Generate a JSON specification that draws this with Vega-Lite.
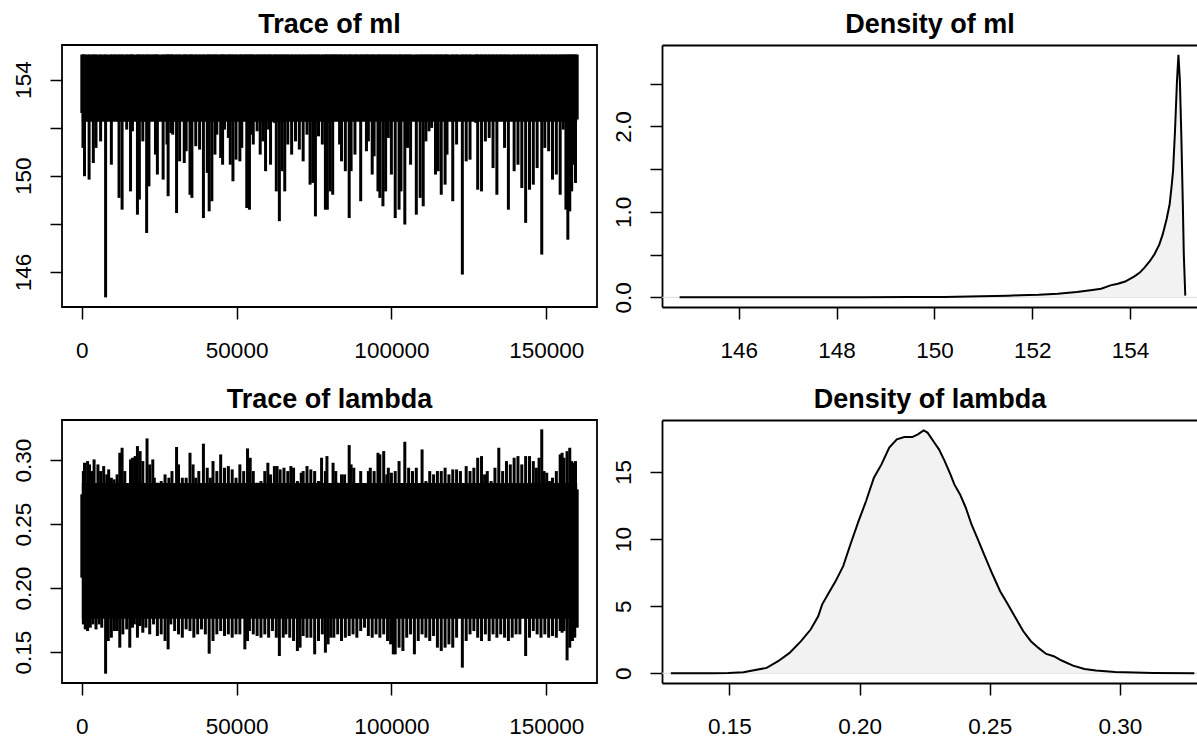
{
  "$schema": "https://vega.github.io/schema/vega-lite/v6.json",
  "padding": {"left": 0, "top": 10, "right": 0, "bottom": 0},
  "background": "white",
  "config": {
    "font": "Liberation Sans",
    "view": {"stroke": "#000000", "strokeWidth": 1.8},
    "axis": {"grid": false, "labelFont": "Liberation Sans", "labelFontSize": 22.5, "labelColor": "#000000", "tickColor": "#000000", "tickWidth": 1.5, "tickSize": 12, "domain": false, "labelOverlap": false, "labelFlush": false, "labelBound": false},
    "axisX": {"labelPadding": 38, "labelBaseline": "alphabetic", "labelAngle": 0, "minExtent": 56, "maxExtent": 56},
    "axisY": {"labelPadding": 20, "labelAngle": -90, "labelAlign": "center", "labelBaseline": "alphabetic", "minExtent": 61, "maxExtent": 61},
    "title": {"font": "Liberation Sans", "fontSize": 27, "fontWeight": "bold", "color": "#000000", "offset": 6, "baseline": "alphabetic", "anchor": "middle"}
  },
  "datasets": {
    "ml_core": [{"iteration": 0, "iteration_end": 160000, "value": 152.25, "value_high": 155.04}],
    "lambda_core": [{"iteration": 0, "iteration_end": 160000, "value": 0.176, "value_high": 0.282}],
    "baseline": [{"density": 0}],
    "ml_trace": [
      {"iteration":0,"value":152.61},{"iteration":372,"value":151.16},{"iteration":867,"value":149.98},{"iteration":2354,"value":149.84},{"iteration":3717,"value":150.53},{"iteration":4584,"value":151.16},{"iteration":6071,"value":151.43},{"iteration":7682,"value":144.94},{"iteration":9540,"value":150.46},{"iteration":10779,"value":152.34},{"iteration":12018,"value":149.08},{"iteration":13010,"value":148.59},{"iteration":14496,"value":151.92},{"iteration":15735,"value":149.35},{"iteration":16355,"value":151.85},{"iteration":17966,"value":148.38},{"iteration":18585,"value":149.01},{"iteration":19700,"value":151.43},{"iteration":20939,"value":147.62},{"iteration":21683,"value":149.56},{"iteration":22922,"value":152.47},{"iteration":23789,"value":150.88},{"iteration":24408,"value":150.05},{"iteration":26267,"value":149.84},{"iteration":27506,"value":151.30},{"iteration":27878,"value":149.15},{"iteration":28745,"value":151.78},{"iteration":29364,"value":151.71},{"iteration":30603,"value":148.45},{"iteration":31595,"value":150.60},{"iteration":33081,"value":150.53},{"iteration":33701,"value":151.02},{"iteration":34940,"value":149.21},{"iteration":35559,"value":149.08},{"iteration":36798,"value":151.23},{"iteration":38037,"value":151.09},{"iteration":39276,"value":148.24},{"iteration":40515,"value":150.12},{"iteration":41135,"value":148.52},{"iteration":42002,"value":148.94},{"iteration":42993,"value":150.88},{"iteration":43613,"value":151.71},{"iteration":44852,"value":150.74},{"iteration":45471,"value":150.46},{"iteration":46091,"value":151.92},{"iteration":47330,"value":151.57},{"iteration":47949,"value":150.46},{"iteration":48817,"value":149.77},{"iteration":49808,"value":150.67},{"iteration":51047,"value":150.60},{"iteration":51666,"value":151.16},{"iteration":52658,"value":152.61},{"iteration":53277,"value":148.66},{"iteration":54144,"value":148.59},{"iteration":54764,"value":151.71},{"iteration":55383,"value":151.30},{"iteration":56622,"value":151.85},{"iteration":57614,"value":150.88},{"iteration":58481,"value":151.43},{"iteration":59348,"value":150.19},{"iteration":60339,"value":151.92},{"iteration":60959,"value":150.46},{"iteration":62198,"value":152.20},{"iteration":62817,"value":149.35},{"iteration":63809,"value":148.11},{"iteration":64676,"value":150.19},{"iteration":65543,"value":149.35},{"iteration":66534,"value":151.30},{"iteration":67773,"value":150.88},{"iteration":69012,"value":151.43},{"iteration":70251,"value":151.09},{"iteration":71491,"value":150.60},{"iteration":72730,"value":151.71},{"iteration":73721,"value":149.63},{"iteration":74588,"value":149.70},{"iteration":75455,"value":148.31},{"iteration":76447,"value":151.64},{"iteration":77686,"value":151.30},{"iteration":78677,"value":148.59},{"iteration":79296,"value":148.59},{"iteration":80163,"value":149.35},{"iteration":81031,"value":149.21},{"iteration":81650,"value":152.40},{"iteration":82394,"value":152.40},{"iteration":83261,"value":151.30},{"iteration":83880,"value":150.60},{"iteration":85119,"value":150.19},{"iteration":86358,"value":148.24},{"iteration":86978,"value":150.19},{"iteration":88217,"value":150.88},{"iteration":88836,"value":152.54},{"iteration":90075,"value":148.94},{"iteration":91067,"value":152.34},{"iteration":91934,"value":151.02},{"iteration":92553,"value":151.43},{"iteration":93792,"value":150.05},{"iteration":94412,"value":150.81},{"iteration":95651,"value":149.35},{"iteration":96270,"value":149.08},{"iteration":97262,"value":148.73},{"iteration":98129,"value":149.35},{"iteration":98996,"value":151.57},{"iteration":99988,"value":150.05},{"iteration":101227,"value":148.24},{"iteration":102466,"value":148.59},{"iteration":103085,"value":149.35},{"iteration":104324,"value":147.97},{"iteration":105191,"value":151.16},{"iteration":106183,"value":150.46},{"iteration":108041,"value":148.38},{"iteration":109280,"value":149.08},{"iteration":110271,"value":148.73},{"iteration":111138,"value":151.43},{"iteration":112130,"value":151.85},{"iteration":112997,"value":151.99},{"iteration":114236,"value":150.05},{"iteration":115103,"value":150.19},{"iteration":116094,"value":149.21},{"iteration":117333,"value":149.63},{"iteration":117953,"value":150.88},{"iteration":119811,"value":148.94},{"iteration":121050,"value":151.30},{"iteration":122909,"value":145.89},{"iteration":124148,"value":150.60},{"iteration":125387,"value":150.67},{"iteration":127245,"value":152.20},{"iteration":127865,"value":149.42},{"iteration":129104,"value":149.35},{"iteration":130343,"value":151.43},{"iteration":131582,"value":151.57},{"iteration":132821,"value":150.32},{"iteration":134060,"value":149.21},{"iteration":135299,"value":152.27},{"iteration":136538,"value":151.16},{"iteration":137777,"value":148.59},{"iteration":139635,"value":150.19},{"iteration":140874,"value":150.46},{"iteration":142113,"value":149.49},{"iteration":143352,"value":148.04},{"iteration":144591,"value":149.42},{"iteration":145830,"value":149.63},{"iteration":147069,"value":150.32},{"iteration":148556,"value":146.72},{"iteration":149547,"value":151.16},{"iteration":150786,"value":151.02},{"iteration":152025,"value":149.84},{"iteration":153264,"value":150.05},{"iteration":154503,"value":149.21},{"iteration":155494,"value":151.92},{"iteration":156362,"value":148.59},{"iteration":156981,"value":147.34},{"iteration":157601,"value":148.52},{"iteration":158220,"value":149.35},{"iteration":158840,"value":150.46},{"iteration":159459,"value":149.70},{"iteration":160000,"value":152.34}
    ],
    "lambda_upper": [
      {"iteration":0,"value":0.2732},{"iteration":496,"value":0.2914},{"iteration":867,"value":0.2979},{"iteration":1859,"value":0.2992},{"iteration":2478,"value":0.2966},{"iteration":3345,"value":0.2914},{"iteration":3965,"value":0.3005},{"iteration":5204,"value":0.2966},{"iteration":6071,"value":0.2914},{"iteration":7062,"value":0.2953},{"iteration":8054,"value":0.2888},{"iteration":8673,"value":0.2927},{"iteration":9540,"value":0.2862},{"iteration":10408,"value":0.2849},{"iteration":11399,"value":0.2888},{"iteration":12266,"value":0.3057},{"iteration":13010,"value":0.3096},{"iteration":13877,"value":0.2914},{"iteration":14868,"value":0.2797},{"iteration":15735,"value":0.3005},{"iteration":16355,"value":0.3018},{"iteration":17222,"value":0.3031},{"iteration":17966,"value":0.3109},{"iteration":18833,"value":0.3070},{"iteration":19700,"value":0.2992},{"iteration":21063,"value":0.3169},{"iteration":21930,"value":0.2966},{"iteration":22922,"value":0.3005},{"iteration":23417,"value":0.2862},{"iteration":24408,"value":0.2823},{"iteration":25647,"value":0.2836},{"iteration":26886,"value":0.2888},{"iteration":28125,"value":0.2862},{"iteration":29117,"value":0.2914},{"iteration":30603,"value":0.3102},{"iteration":31223,"value":0.2966},{"iteration":32462,"value":0.2862},{"iteration":33701,"value":0.2862},{"iteration":34940,"value":0.3057},{"iteration":35931,"value":0.2966},{"iteration":36798,"value":0.2862},{"iteration":37790,"value":0.2914},{"iteration":39276,"value":0.3128},{"iteration":40515,"value":0.2940},{"iteration":41507,"value":0.2862},{"iteration":42374,"value":0.2992},{"iteration":43613,"value":0.2914},{"iteration":44852,"value":0.3044},{"iteration":46091,"value":0.2940},{"iteration":47330,"value":0.2953},{"iteration":48569,"value":0.2927},{"iteration":49808,"value":0.2862},{"iteration":51047,"value":0.2966},{"iteration":52286,"value":0.2914},{"iteration":53525,"value":0.3091},{"iteration":54392,"value":0.3018},{"iteration":55383,"value":0.2914},{"iteration":56622,"value":0.2823},{"iteration":57861,"value":0.2836},{"iteration":59100,"value":0.2914},{"iteration":60092,"value":0.2979},{"iteration":60959,"value":0.2888},{"iteration":62198,"value":0.2953},{"iteration":63065,"value":0.2953},{"iteration":64056,"value":0.2927},{"iteration":65295,"value":0.2940},{"iteration":66534,"value":0.2914},{"iteration":67526,"value":0.2953},{"iteration":68393,"value":0.2940},{"iteration":69632,"value":0.2836},{"iteration":70871,"value":0.2901},{"iteration":71491,"value":0.2914},{"iteration":72730,"value":0.2953},{"iteration":73969,"value":0.2927},{"iteration":75208,"value":0.2914},{"iteration":76447,"value":0.2836},{"iteration":77438,"value":0.3018},{"iteration":78677,"value":0.2914},{"iteration":79172,"value":0.3031},{"iteration":80411,"value":0.2810},{"iteration":81155,"value":0.2979},{"iteration":82022,"value":0.2914},{"iteration":82641,"value":0.2823},{"iteration":83880,"value":0.2888},{"iteration":84872,"value":0.2888},{"iteration":86358,"value":0.3117},{"iteration":86978,"value":0.2966},{"iteration":87845,"value":0.2940},{"iteration":88836,"value":0.2810},{"iteration":90075,"value":0.2914},{"iteration":91314,"value":0.2745},{"iteration":92553,"value":0.2914},{"iteration":93173,"value":0.2940},{"iteration":94412,"value":0.2914},{"iteration":95651,"value":0.3057},{"iteration":96270,"value":0.3044},{"iteration":97509,"value":0.3070},{"iteration":98501,"value":0.2888},{"iteration":98996,"value":0.2940},{"iteration":99988,"value":0.2901},{"iteration":101227,"value":0.2914},{"iteration":102466,"value":0.2992},{"iteration":104324,"value":0.3143},{"iteration":105563,"value":0.2940},{"iteration":106802,"value":0.2914},{"iteration":108041,"value":0.2940},{"iteration":109899,"value":0.3083},{"iteration":111138,"value":0.2836},{"iteration":112377,"value":0.2914},{"iteration":113616,"value":0.2888},{"iteration":114855,"value":0.2914},{"iteration":116094,"value":0.2914},{"iteration":117333,"value":0.2940},{"iteration":118572,"value":0.2888},{"iteration":119811,"value":0.2927},{"iteration":121050,"value":0.2927},{"iteration":122289,"value":0.2914},{"iteration":124148,"value":0.2953},{"iteration":125387,"value":0.2914},{"iteration":126626,"value":0.2940},{"iteration":127865,"value":0.3018},{"iteration":129104,"value":0.3031},{"iteration":130095,"value":0.2888},{"iteration":130962,"value":0.2914},{"iteration":132201,"value":0.2836},{"iteration":133440,"value":0.2940},{"iteration":134679,"value":0.3096},{"iteration":135918,"value":0.2914},{"iteration":137157,"value":0.2992},{"iteration":138396,"value":0.2966},{"iteration":139635,"value":0.3018},{"iteration":140874,"value":0.3031},{"iteration":142113,"value":0.2966},{"iteration":143352,"value":0.3031},{"iteration":144591,"value":0.3031},{"iteration":145830,"value":0.2992},{"iteration":146822,"value":0.2940},{"iteration":147689,"value":0.3018},{"iteration":148556,"value":0.3240},{"iteration":149300,"value":0.2914},{"iteration":150167,"value":0.2901},{"iteration":151034,"value":0.2836},{"iteration":152025,"value":0.2862},{"iteration":153264,"value":0.2914},{"iteration":154503,"value":0.3044},{"iteration":155123,"value":0.3057},{"iteration":155742,"value":0.3018},{"iteration":156734,"value":0.3070},{"iteration":157601,"value":0.3096},{"iteration":158220,"value":0.2992},{"iteration":158840,"value":0.2979},{"iteration":159459,"value":0.2992},{"iteration":160000,"value":0.2771}
    ],
    "lambda_lower": [
      {"iteration":0,"value":0.2081},{"iteration":496,"value":0.1716},{"iteration":1115,"value":0.1677},{"iteration":1859,"value":0.1664},{"iteration":2726,"value":0.1690},{"iteration":3593,"value":0.1716},{"iteration":4584,"value":0.1677},{"iteration":5576,"value":0.1716},{"iteration":6443,"value":0.1690},{"iteration":7682,"value":0.1331},{"iteration":8549,"value":0.1586},{"iteration":9540,"value":0.1612},{"iteration":10532,"value":0.1664},{"iteration":11399,"value":0.1664},{"iteration":12266,"value":0.1534},{"iteration":13257,"value":0.1638},{"iteration":14496,"value":0.1677},{"iteration":15488,"value":0.1534},{"iteration":16355,"value":0.1690},{"iteration":16974,"value":0.1716},{"iteration":17966,"value":0.1612},{"iteration":18833,"value":0.1703},{"iteration":19700,"value":0.1651},{"iteration":20691,"value":0.1690},{"iteration":21930,"value":0.1638},{"iteration":23169,"value":0.1716},{"iteration":24408,"value":0.1625},{"iteration":25647,"value":0.1638},{"iteration":26886,"value":0.1586},{"iteration":27878,"value":0.1521},{"iteration":28745,"value":0.1716},{"iteration":29984,"value":0.1664},{"iteration":31223,"value":0.1638},{"iteration":32462,"value":0.1612},{"iteration":33701,"value":0.1677},{"iteration":34940,"value":0.1664},{"iteration":36179,"value":0.1612},{"iteration":37418,"value":0.1638},{"iteration":38657,"value":0.1677},{"iteration":39896,"value":0.1638},{"iteration":41135,"value":0.1487},{"iteration":42374,"value":0.1586},{"iteration":43613,"value":0.1638},{"iteration":44852,"value":0.1664},{"iteration":46091,"value":0.1625},{"iteration":47330,"value":0.1638},{"iteration":48569,"value":0.1612},{"iteration":49808,"value":0.1638},{"iteration":51047,"value":0.1638},{"iteration":52658,"value":0.1521},{"iteration":53525,"value":0.1586},{"iteration":54144,"value":0.1664},{"iteration":55383,"value":0.1638},{"iteration":56622,"value":0.1625},{"iteration":57861,"value":0.1612},{"iteration":59100,"value":0.1638},{"iteration":60339,"value":0.1612},{"iteration":61578,"value":0.1664},{"iteration":62817,"value":0.1612},{"iteration":63809,"value":0.1469},{"iteration":65048,"value":0.1612},{"iteration":65915,"value":0.1638},{"iteration":67154,"value":0.1612},{"iteration":68393,"value":0.1586},{"iteration":69632,"value":0.1508},{"iteration":70499,"value":0.1534},{"iteration":71491,"value":0.1625},{"iteration":72730,"value":0.1612},{"iteration":73969,"value":0.1612},{"iteration":75208,"value":0.1482},{"iteration":76447,"value":0.1586},{"iteration":77686,"value":0.1638},{"iteration":78677,"value":0.1495},{"iteration":79544,"value":0.1560},{"iteration":80411,"value":0.1612},{"iteration":81402,"value":0.1612},{"iteration":82641,"value":0.1638},{"iteration":83880,"value":0.1586},{"iteration":85119,"value":0.1612},{"iteration":86358,"value":0.1625},{"iteration":87597,"value":0.1638},{"iteration":88836,"value":0.1612},{"iteration":90075,"value":0.1664},{"iteration":91314,"value":0.1690},{"iteration":92553,"value":0.1625},{"iteration":93792,"value":0.1612},{"iteration":95031,"value":0.1638},{"iteration":96270,"value":0.1612},{"iteration":97509,"value":0.1638},{"iteration":98748,"value":0.1586},{"iteration":99740,"value":0.1560},{"iteration":100607,"value":0.1482},{"iteration":101227,"value":0.1482},{"iteration":102466,"value":0.1534},{"iteration":103705,"value":0.1508},{"iteration":104944,"value":0.1612},{"iteration":106183,"value":0.1638},{"iteration":107422,"value":0.1482},{"iteration":108661,"value":0.1586},{"iteration":109899,"value":0.1638},{"iteration":111138,"value":0.1612},{"iteration":112377,"value":0.1586},{"iteration":113616,"value":0.1625},{"iteration":114855,"value":0.1534},{"iteration":116094,"value":0.1508},{"iteration":117333,"value":0.1534},{"iteration":118572,"value":0.1560},{"iteration":119811,"value":0.1534},{"iteration":121050,"value":0.1612},{"iteration":122909,"value":0.1378},{"iteration":124148,"value":0.1586},{"iteration":125387,"value":0.1638},{"iteration":126626,"value":0.1664},{"iteration":127865,"value":0.1612},{"iteration":129104,"value":0.1586},{"iteration":130343,"value":0.1638},{"iteration":131582,"value":0.1586},{"iteration":132821,"value":0.1638},{"iteration":134060,"value":0.1612},{"iteration":135299,"value":0.1638},{"iteration":136538,"value":0.1612},{"iteration":137777,"value":0.1586},{"iteration":139016,"value":0.1612},{"iteration":140255,"value":0.1638},{"iteration":141494,"value":0.1638},{"iteration":143352,"value":0.1469},{"iteration":144591,"value":0.1612},{"iteration":145830,"value":0.1664},{"iteration":147069,"value":0.1638},{"iteration":148308,"value":0.1612},{"iteration":149547,"value":0.1638},{"iteration":150786,"value":0.1612},{"iteration":152025,"value":0.1625},{"iteration":153264,"value":0.1612},{"iteration":154503,"value":0.1664},{"iteration":155123,"value":0.1651},{"iteration":155742,"value":0.1664},{"iteration":156734,"value":0.1435},{"iteration":157601,"value":0.1534},{"iteration":158468,"value":0.1586},{"iteration":159211,"value":0.1612},{"iteration":160000,"value":0.1690}
    ],
    "ml_density": [
      {"value":144.79,"density":0.0},{"value":145.5,"density":0.0},{"value":146.5,"density":0.001},{"value":147.5,"density":0.001},{"value":148.5,"density":0.002},{"value":149.5,"density":0.003},{"value":150.2,"density":0.005},{"value":150.96,"density":0.012},{"value":151.5,"density":0.019},{"value":151.74,"density":0.024},{"value":152.13,"density":0.031},{"value":152.52,"density":0.043},{"value":152.91,"density":0.062},{"value":153.23,"density":0.086},{"value":153.41,"density":0.1},{"value":153.6,"density":0.14},{"value":153.75,"density":0.16},{"value":153.9,"density":0.185},{"value":154.09,"density":0.245},{"value":154.2,"density":0.29},{"value":154.3,"density":0.35},{"value":154.4,"density":0.42},{"value":154.5,"density":0.505},{"value":154.6,"density":0.62},{"value":154.67,"density":0.74},{"value":154.75,"density":0.92},{"value":154.81,"density":1.09},{"value":154.85,"density":1.3},{"value":154.88,"density":1.48},{"value":154.92,"density":1.95},{"value":154.96,"density":2.53},{"value":154.99,"density":2.84},{"value":155.02,"density":2.53},{"value":155.05,"density":1.87},{"value":155.08,"density":1.09},{"value":155.1,"density":0.5},{"value":155.13,"density":0.02}
    ],
    "lambda_density": [
      {"value":0.1275,"density":0.0},{"value":0.1437,"density":0.0},{"value":0.1496,"density":0.02},{"value":0.1554,"density":0.07},{"value":0.1599,"density":0.25},{"value":0.1643,"density":0.4},{"value":0.1687,"density":0.9},{"value":0.1731,"density":1.52},{"value":0.1775,"density":2.39},{"value":0.1812,"density":3.26},{"value":0.1841,"density":4.25},{"value":0.1856,"density":5.12},{"value":0.1878,"density":5.87},{"value":0.1908,"density":6.87},{"value":0.1937,"density":7.99},{"value":0.1967,"density":9.73},{"value":0.1996,"density":11.34},{"value":0.2025,"density":12.84},{"value":0.2055,"density":14.58},{"value":0.2084,"density":15.57},{"value":0.2114,"density":16.82},{"value":0.2143,"density":17.44},{"value":0.2172,"density":17.61},{"value":0.2202,"density":17.61},{"value":0.2224,"density":17.81},{"value":0.2246,"density":18.11},{"value":0.2261,"density":17.94},{"value":0.2283,"density":17.31},{"value":0.2305,"density":16.69},{"value":0.2327,"density":15.82},{"value":0.2349,"density":14.83},{"value":0.2364,"density":14.08},{"value":0.2386,"density":13.33},{"value":0.2408,"density":12.34},{"value":0.243,"density":11.09},{"value":0.2452,"density":10.1},{"value":0.2481,"density":8.73},{"value":0.2511,"density":7.36},{"value":0.254,"density":6.12},{"value":0.257,"density":5.12},{"value":0.2599,"density":4.13},{"value":0.2629,"density":3.13},{"value":0.2658,"density":2.39},{"value":0.2687,"density":1.89},{"value":0.2717,"density":1.44},{"value":0.2746,"density":1.27},{"value":0.2776,"density":0.95},{"value":0.282,"density":0.57},{"value":0.2864,"density":0.32},{"value":0.2908,"density":0.2},{"value":0.2982,"density":0.1},{"value":0.3055,"density":0.05},{"value":0.3129,"density":0.02},{"value":0.3286,"density":0.0}
    ]
  },
  "spacing": 21,
  "vconcat": [
    {
      "spacing": 3,
      "hconcat": [
        {
          "title": "Trace of ml",
          "width": 535,
          "height": 262,
          "encoding": {
            "x": {"field": "iteration", "type": "quantitative", "title": null, "scale": {"domain": [-6400, 166400], "nice": false, "zero": false}, "axis": {"values": [0, 50000, 100000, 150000], "format": "d"}},
            "y": {"field": "value", "type": "quantitative", "title": null, "scale": {"domain": [144.54, 155.44], "nice": false, "zero": false}, "axis": {"values": [146, 148, 150, 152, 154], "format": "d", "labelExpr": "datum.value % 4 === 2 ? datum.label : ''"}}
          },
          "layer": [
            {"data": {"name": "ml_core"}, "mark": {"type": "rect", "color": "#000000"}, "encoding": {"x2": {"field": "iteration_end"}, "y2": {"field": "value_high"}}},
            {"data": {"name": "ml_trace"}, "mark": {"type": "rule", "color": "#000000", "strokeWidth": 3}, "encoding": {"y2": {"datum": 155.04}}}
          ]
        },
        {
          "title": "Density of ml",
          "width": 536,
          "height": 262,
          "view": {"stroke": null},
          "encoding": {
            "y": {"field": "density", "type": "quantitative", "title": null, "scale": {"domain": [-0.113, 2.954], "nice": false, "zero": false}, "axis": {"values": [0, 0.5, 1, 1.5, 2, 2.5], "format": ".1f", "labelExpr": "datum.value % 1 === 0 ? datum.label : ''", "domain": true, "domainColor": "#000000", "domainWidth": 1.8}}
          },
          "layer": [
            {"data": {"name": "baseline"}, "mark": {"type": "rule", "color": "#DDDDDD", "strokeWidth": 1}, "encoding": {}},
            {"data": {"name": "ml_density"}, "mark": {"type": "area", "color": "#F2F2F2"}, "encoding": {
              "x": {"field": "value", "type": "quantitative", "title": null, "scale": {"domain": [144.43, 155.39], "nice": false, "zero": false}, "axis": {"values": [146, 148, 150, 152, 154], "format": "d", "domain": true, "domainColor": "#000000", "domainWidth": 1.8}},
              "y2": {"datum": 0}}},
            {"data": {"name": "ml_density"}, "mark": {"type": "line", "color": "#000000", "strokeWidth": 2}, "encoding": {
              "x": {"field": "value", "type": "quantitative", "title": null, "axis": {"orient": "top", "labels": false, "ticks": false, "domain": true, "domainColor": "#000000", "domainWidth": 1.8, "minExtent": 0, "maxExtent": 0}}}}
          ],
          "resolve": {"axis": {"x": "independent"}}
        }
      ]
    },
    {
      "spacing": 3,
      "hconcat": [
        {
          "title": "Trace of lambda",
          "width": 535,
          "height": 263,
          "encoding": {
            "x": {"field": "iteration", "type": "quantitative", "title": null, "scale": {"domain": [-6400, 166400], "nice": false, "zero": false}, "axis": {"values": [0, 50000, 100000, 150000], "format": "d"}},
            "y": {"field": "value", "type": "quantitative", "title": null, "scale": {"domain": [0.1258, 0.3313], "nice": false, "zero": false}, "axis": {"values": [0.15, 0.2, 0.25, 0.3], "format": ".2f"}}
          },
          "layer": [
            {"data": {"name": "lambda_core"}, "mark": {"type": "rect", "color": "#000000"}, "encoding": {"x2": {"field": "iteration_end"}, "y2": {"field": "value_high"}}},
            {"data": {"name": "lambda_upper"}, "mark": {"type": "rule", "color": "#000000", "strokeWidth": 3}, "encoding": {"y2": {"datum": 0.225}}},
            {"data": {"name": "lambda_lower"}, "mark": {"type": "rule", "color": "#000000", "strokeWidth": 3}, "encoding": {"y2": {"datum": 0.225}}}
          ]
        },
        {
          "title": "Density of lambda",
          "width": 536,
          "height": 263,
          "view": {"stroke": null},
          "encoding": {
            "y": {"field": "density", "type": "quantitative", "title": null, "scale": {"domain": [-0.726, 18.88], "nice": false, "zero": false}, "axis": {"values": [0, 5, 10, 15], "format": "d", "domain": true, "domainColor": "#000000", "domainWidth": 1.8}}
          },
          "layer": [
            {"data": {"name": "baseline"}, "mark": {"type": "rule", "color": "#DDDDDD", "strokeWidth": 1}, "encoding": {}},
            {"data": {"name": "lambda_density"}, "mark": {"type": "area", "color": "#F2F2F2"}, "encoding": {
              "x": {"field": "value", "type": "quantitative", "title": null, "scale": {"domain": [0.1241, 0.33], "nice": false, "zero": false}, "axis": {"values": [0.15, 0.2, 0.25, 0.3], "format": ".2f", "domain": true, "domainColor": "#000000", "domainWidth": 1.8}},
              "y2": {"datum": 0}}},
            {"data": {"name": "lambda_density"}, "mark": {"type": "line", "color": "#000000", "strokeWidth": 2}, "encoding": {
              "x": {"field": "value", "type": "quantitative", "title": null, "axis": {"orient": "top", "labels": false, "ticks": false, "domain": true, "domainColor": "#000000", "domainWidth": 1.8, "minExtent": 0, "maxExtent": 0}}}}
          ],
          "resolve": {"axis": {"x": "independent"}}
        }
      ]
    }
  ]
}
